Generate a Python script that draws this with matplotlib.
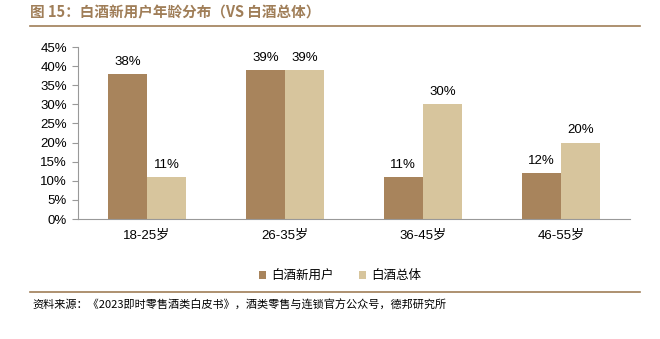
import matplotlib
matplotlib.use("Agg")
import matplotlib.pyplot as plt
import numpy as np

plt.rcParams["font.family"] = ["Liberation Sans", "Noto Sans CJK SC", "DejaVu Sans"]

categories = ["18-25岁", "26-35岁", "36-45岁", "46-55岁"]
new_users = [38, 39, 11, 12]
overall = [11, 39, 30, 20]
series_names = ["白酒新用户", "白酒总体"]
yticks = list(range(0, 50, 5))

C_DARK = "#A8845C"
C_LIGHT = "#D7C59D"
C_TITLE = "#A07E58"

fig = plt.figure(figsize=(6.6, 3.39), dpi=100)
ax = fig.add_axes([78 / 660, 1 - 219 / 339, 552 / 660, 172 / 339])

x = np.arange(len(categories))
w = 0.285
b1 = ax.bar(x - w / 2, new_users, w, color=C_DARK, label=series_names[0])
b2 = ax.bar(x + w / 2, overall, w, color=C_LIGHT, label=series_names[1])
for bars, vals in ((b1, new_users), (b2, overall)):
    for r, v in zip(bars, vals):
        ax.text(r.get_x() + r.get_width() / 2, v + 1.6, f"{v}%", ha="center",
                va="bottom", fontsize=9.5)

ax.set_xlim(-0.5, len(categories) - 0.5)
ax.set_ylim(0, 45)
ax.set_yticks(yticks)
ax.set_yticklabels([f"{t}%" for t in yticks], fontsize=9.5)
ax.set_xticks(x)
ax.set_xticklabels(categories, fontsize=9.5)
ax.tick_params(axis="x", length=0, pad=8)
ax.tick_params(axis="y", length=4, color="#999999", pad=4)
for s in ("top", "right"):
    ax.spines[s].set_visible(False)
for s in ("left", "bottom"):
    ax.spines[s].set_color("#999999")
    ax.spines[s].set_linewidth(0.8)

ax.legend(loc="upper center", bbox_to_anchor=(340 / 660, 1 - 258 / 339),
          bbox_transform=fig.transFigure, ncol=2, frameon=False,
          handlelength=0.6, handleheight=0.6, handletextpad=0.4,
          columnspacing=2.0, prop={"family": "Noto Sans CJK SC", "size": 9})

fig.text(30 / 660, 1 - 12 / 339, "图 15：白酒新用户年龄分布（VS 白酒总体）", color=C_TITLE,
         fontsize=10.5, fontweight="bold", va="center", ha="left",
         family=["Noto Sans CJK SC", "DejaVu Sans"])
fig.add_artist(plt.Line2D([30 / 660, 640 / 660], [1 - 26 / 339] * 2,
                          color=C_TITLE, linewidth=1.2, transform=fig.transFigure))
fig.add_artist(plt.Line2D([30 / 660, 640 / 660], [1 - 292 / 339] * 2,
                          color=C_TITLE, linewidth=1.2, transform=fig.transFigure))
fig.text(32 / 660, 1 - 305 / 339,
         "资料来源：《2023即时零售酒类白皮书》，酒类零售与连锁官方公众号，德邦研究所",
         fontsize=8, va="center", ha="left",
         family=["Noto Sans CJK SC", "DejaVu Sans"])

fig.savefig("out.png", dpi=100)
